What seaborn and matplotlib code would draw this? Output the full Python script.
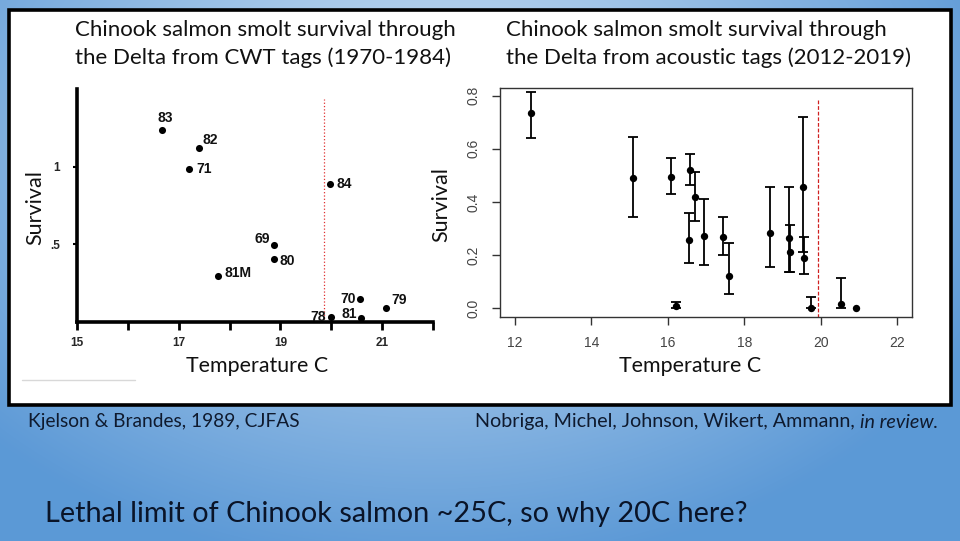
import numpy as np
import pandas as pd
import seaborn as sns
import matplotlib.pyplot as plt
from matplotlib.patches import Rectangle
from matplotlib.lines import Line2D

# CWT tag survival (Kjelson & Brandes 1989)
cwt_temp = [16.67, 17.39, 17.20, 19.97, 18.87, 18.88, 17.78, 20.56, 21.08, 19.99, 20.58]
cwt_surv = [1.236, 1.118, 0.983, 0.888, 0.494, 0.403, 0.294, 0.146, 0.088, 0.032, 0.028]
cwt_year = ["83", "82", "71", "84", "69", "80", "81M", "70", "79", "78", "81"]

# acoustic tag survival (2012-2019) with interval ends
ac_temp = [12.42, 15.09, 16.08, 16.21, 16.57, 16.55, 16.71, 16.94, 17.45, 17.61,
           18.68, 19.17, 19.21, 19.55, 19.57, 19.75, 20.52, 20.92]
ac_surv = [0.735, 0.490, 0.494, 0.008, 0.520, 0.255, 0.420, 0.271, 0.267, 0.120,
           0.282, 0.266, 0.213, 0.458, 0.190, 0.001, 0.016, 0.000]
ac_lo = [0.641, 0.344, 0.429, 0.000, 0.463, 0.172, 0.327, 0.163, 0.202, 0.055,
         0.155, 0.137, 0.137, 0.212, 0.130, 0.000, 0.000, 0.000]
ac_hi = [0.815, 0.645, 0.564, 0.024, 0.579, 0.357, 0.514, 0.413, 0.344, 0.245,
         0.456, 0.456, 0.313, 0.720, 0.267, 0.043, 0.114, 0.000]

x_ticks_cwt = [15, 16, 17, 18, 19, 20, 21, 22]
x_labels_cwt = ["15", "", "17", "", "19", "", "21", ""]
y_ticks_cwt = [0.5, 1.0]
y_labels_cwt = [".5", "1"]
x_ticks_ac = [12, 14, 16, 18, 20, 22]
y_ticks_ac = [0.0, 0.2, 0.4, 0.6, 0.8]

# label placement for the year labels: (ha, dx px, dy px)
label_pos = {
    "83": ("center", 3, 12), "82": ("left", 4, 8), "71": ("left", 7, 0),
    "84": ("left", 7, 0), "69": ("right", -4, 6), "80": ("left", 5, -2),
    "81M": ("left", 6, 3), "70": ("right", -4, 0), "79": ("left", 5, 8),
    "78": ("right", -5, 0), "81": ("right", -4, 4),
}

cwt = pd.DataFrame({"temp": cwt_temp, "surv": cwt_surv, "year": cwt_year})
ac = pd.DataFrame({"temp": ac_temp, "surv": ac_surv, "lo": ac_lo, "hi": ac_hi})

sns.set_theme(style="white")
plt.rcParams["font.family"] = ["Lato", "DejaVu Sans"]

W, H = 960, 541
fig = plt.figure(figsize=(9.6, 5.41), dpi=100)

# blue gradient slide background
bg = fig.add_axes([0, 0, 1, 1], zorder=-5)
yy, xx = np.mgrid[0:1:541j, 0:1:960j]
r = np.sqrt(((xx - 0.45) / 0.75) ** 2 + ((yy - 0.25) / 0.95) ** 2)
r = np.clip(r / 0.85, 0, 1)
light = np.array([0.82, 0.89, 0.96])
dark = np.array([0.36, 0.60, 0.84])
img = light[None, None, :] * (1 - r[..., None]) + dark[None, None, :] * r[..., None]
bg.imshow(img, aspect="auto", extent=[0, 1, 0, 1], origin="upper")
bg.set_axis_off()

def fx(px):
    return px / W

def fy(py):
    return 1 - py / H

# white panel with black frame
fig.patches.append(Rectangle((fx(9), fy(405)), fx(942), (405 - 10) / H,
                             transform=fig.transFigure, facecolor="white",
                             edgecolor="black", linewidth=2.6, zorder=-1))
fig.lines.append(Line2D([fx(22), fx(135)], [fy(380), fy(380)],
                        transform=fig.transFigure, color="#d8d8d8", linewidth=1))

# ---- left panel: CWT tags ----
ax1 = fig.add_axes([fx(77), fy(322), (433 - 77) / W, (322 - 89) / H])
ax1.set_facecolor("none")
sns.scatterplot(data=cwt, x="temp", y="surv", ax=ax1, color="black", s=26,
                edgecolor="black", linewidth=0, legend=False, clip_on=False)
for _, row in cwt.iterrows():
    ha, dx, dy = label_pos[row["year"]]
    ax1.annotate(row["year"], (row["temp"], row["surv"]), xytext=(dx * 0.72, dy * 0.72),
                 textcoords="offset points", ha=ha, va="center", fontsize=10,
                 fontweight="bold", family="Liberation Sans", color="#111111")
ax1.plot([19.86, 19.86], [0, 1.436], color="#e03030", linestyle=":", linewidth=0.9)
ax1.set_xlim(15, 22)
ax1.set_ylim(0, 1.5)
ax1.set_xticks(x_ticks_cwt)
ax1.set_xticklabels(x_labels_cwt)
ax1.set_yticks(y_ticks_cwt)
ax1.set_yticklabels(y_labels_cwt)
for s in ["top", "right"]:
    ax1.spines[s].set_visible(False)
for s in ["left", "bottom"]:
    ax1.spines[s].set_linewidth(2.6)
    ax1.spines[s].set_color("black")
ax1.tick_params(axis="x", bottom=True, direction="out", length=6, width=2, pad=5,
                labelsize=8.5, color="black")
ax1.tick_params(axis="y", left=True, direction="out", length=3, width=1.5, pad=9,
                labelsize=8.5, color="black")
for lab in ax1.get_xticklabels() + ax1.get_yticklabels():
    lab.set_fontweight("bold")
    lab.set_family("Liberation Sans")
ax1.set_xlabel("")
ax1.set_ylabel("")

# ---- right panel: acoustic tags ----
ax2 = fig.add_axes([fx(500), fy(317), (912 - 500) / W, (317 - 88) / H])
has_bar = ac["hi"] > ac["lo"]
ax2.errorbar(ac["temp"][has_bar], ac["surv"][has_bar],
             yerr=[ac["surv"][has_bar] - ac["lo"][has_bar], ac["hi"][has_bar] - ac["surv"][has_bar]],
             fmt="none", ecolor="black", elinewidth=1.3, capsize=3.6, capthick=1.3)
sns.scatterplot(data=ac, x="temp", y="surv", ax=ax2, color="black", s=28,
                edgecolor="black", linewidth=0, legend=False, zorder=3)
ax2.plot([19.93, 19.93], [0.782, -0.04], color="#d02020", linestyle="--",
         linewidth=0.9, dashes=(3, 1.5), clip_on=False)
ax2.set_xlim(11.607, 22.39)
ax2.set_ylim(-0.033, 0.829)
ax2.set_xticks(x_ticks_ac)
ax2.set_yticks(y_ticks_ac)
ax2.set_yticklabels([f"{v:.1f}" for v in y_ticks_ac], rotation=90, va="center")
for s in ax2.spines.values():
    s.set_linewidth(1.0)
    s.set_color("#333333")
ax2.tick_params(axis="both", bottom=True, left=True, direction="out", length=5.8,
                width=1, color="#333333", labelsize=10, labelcolor="#444444", pad=8)
for lab in ax2.get_xticklabels() + ax2.get_yticklabels():
    lab.set_family("Liberation Sans")
ax2.set_xlabel("")
ax2.set_ylabel("")

# ---- slide text ----
txt = "#111111"
fig.text(fx(75), fy(30), "Chinook salmon smolt survival through", fontsize=16, va="center", color=txt)
fig.text(fx(75), fy(58), "the Delta from CWT tags (1970-1984)", fontsize=16, va="center", color=txt)
fig.text(fx(506), fy(30), "Chinook salmon smolt survival through", fontsize=16, va="center", color=txt)
fig.text(fx(506), fy(58), "the Delta from acoustic tags (2012-2019)", fontsize=16, va="center", color=txt)

fig.text(fx(35), fy(208), "Survival", rotation=90, fontsize=15.5, ha="center", va="center", color=txt)
fig.text(fx(441), fy(205), "Survival", rotation=90, fontsize=15.5, ha="center", va="center", color=txt)
fig.text(fx(257), fy(366), "Temperature C", fontsize=15.4, ha="center", va="center", color=txt)
fig.text(fx(690), fy(366), "Temperature C", fontsize=15.4, ha="center", va="center", color=txt)

cap = "#0f1a2e"
fig.text(fx(28), fy(422), "Kjelson & Brandes, 1989, CJFAS", fontsize=13.8, va="center", color=cap)
t = fig.text(fx(475), fy(422), "Nobriga, Michel, Johnson, Wikert, Ammann, ", fontsize=14.2,
             va="center", color=cap)
fig.canvas.draw()
bb = t.get_window_extent()
fig.text(bb.x1 / W, fy(422), "in review.", fontsize=14.2, va="center", style="italic", color=cap)

fig.text(fx(45), fy(514), "Lethal limit of Chinook salmon ~25C, so why 20C here?", fontsize=20.8,
         va="center", color="#0a1428")

fig.savefig("out.png", dpi=100)
